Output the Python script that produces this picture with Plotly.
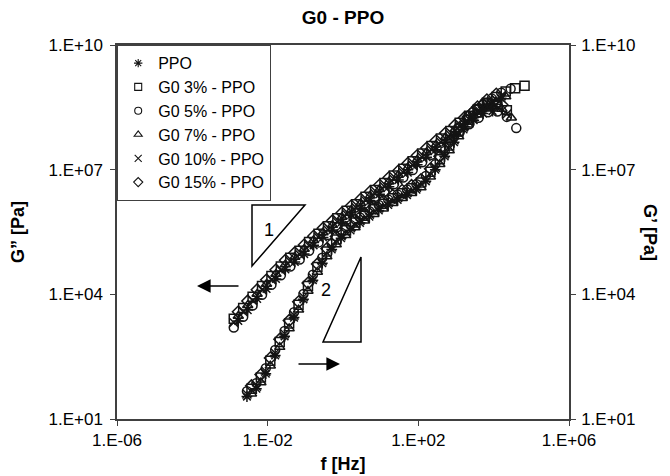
import plotly.graph_objects as go

# ---------------- data (log10 values) ----------------
# frequency grids, log10(f / Hz)
loss_log_f_a = [-2.90, -2.65, -2.40, -2.15, -1.90, -1.65, -1.40, -1.15, -0.90, -0.65, -0.40, -0.15, 0.10, 0.35, 0.60, 0.85,
                1.10, 1.35, 1.60, 1.85, 2.10, 2.35, 2.60, 2.85, 3.10, 3.35, 3.60, 3.85, 4.10, 4.35, 4.60]
loss_log_f_b = [-2.78, -2.53, -2.28, -2.03, -1.78, -1.53, -1.28, -1.03, -0.78, -0.53, -0.28, -0.03, 0.22, 0.47, 0.72, 0.97,
                1.22, 1.47, 1.72, 1.97, 2.22, 2.47, 2.72, 2.97, 3.22, 3.47, 3.72, 3.97, 4.22, 4.47]
stor_log_f_a = [-2.55, -2.30, -2.05, -1.80, -1.55, -1.30, -1.05, -0.80, -0.55, -0.30, -0.05, 0.20, 0.45, 0.70, 0.95, 1.20,
                1.45, 1.70, 1.95, 2.20, 2.45, 2.70, 2.95, 3.20, 3.45, 3.70, 3.95, 4.20, 4.45, 4.70]
stor_log_f_b = [-2.43, -2.18, -1.93, -1.68, -1.43, -1.18, -0.93, -0.68, -0.43, -0.18, 0.07, 0.32, 0.57, 0.82, 1.07, 1.32,
                1.57, 1.82, 2.07, 2.32, 2.57, 2.82, 3.07, 3.32, 3.57, 3.82, 4.07, 4.32, 4.57, 4.82]

# G'' (loss modulus), log10(Pa)
ppo_loss = [3.36, 3.62, 3.89, 4.13, 4.37, 4.60, 4.78, 4.97, 5.18, 5.37, 5.55, 5.74, 5.91, 6.07, 6.25, 6.41, 6.59, 6.75,
            6.93, 7.12, 7.30, 7.48, 7.66, 7.85, 8.03, 8.19, 8.35, 8.41]
g3_loss = [3.41, 3.67, 3.94, 4.20, 4.44, 4.67, 4.88, 5.05, 5.26, 5.46, 5.64, 5.83, 6.01, 6.17, 6.35, 6.51, 6.68, 6.86,
           7.02, 7.20, 7.39, 7.57, 7.75, 7.93, 8.13, 8.30, 8.46, 8.57, 8.57, 8.43]
g5_loss = [3.20, 3.46, 3.73, 3.99, 4.23, 4.46, 4.67, 4.84, 5.05, 5.25, 5.43, 5.62, 5.80, 5.96, 6.14, 6.30, 6.47, 6.65,
           6.81, 6.99, 7.18, 7.36, 7.54, 7.72, 7.92, 8.09, 8.25, 8.38, 8.40, 8.27, 8.00]
g7_loss = [3.48, 3.74, 4.01, 4.25, 4.49, 4.72, 4.90, 5.09, 5.30, 5.49, 5.67, 5.86, 6.03, 6.19, 6.37, 6.53, 6.71, 6.87,
           7.05, 7.24, 7.42, 7.60, 7.78, 7.97, 8.15, 8.31, 8.47, 8.53, 8.46, 8.25]
g10_loss = [3.32, 3.58, 3.85, 4.11, 4.35, 4.58, 4.79, 4.96, 5.17, 5.37, 5.55, 5.74, 5.92, 6.08, 6.26, 6.42, 6.59, 6.77,
            6.93, 7.11, 7.30, 7.48, 7.66, 7.84, 8.04, 8.21, 8.37, 8.48, 8.48, 8.34]
g15_loss = [3.58, 3.84, 4.11, 4.35, 4.59, 4.82, 5.00, 5.19, 5.40, 5.59, 5.77, 5.96, 6.13, 6.29, 6.47, 6.63, 6.81, 6.97,
            7.15, 7.34, 7.52, 7.70, 7.88, 8.07, 8.25, 8.41, 8.57, 8.63, 8.56]

# G' (storage modulus), log10(Pa)
ppo_stor = [1.54, 1.73, 2.09, 2.53, 2.99, 3.44, 3.88, 4.34, 4.75, 5.08, 5.35, 5.54, 5.72, 5.87, 6.02, 6.15, 6.27, 6.39,
            6.52, 6.72, 7.00, 7.32, 7.66, 7.97, 8.25, 8.43, 8.58, 8.72]
g3_stor = [1.73, 2.00, 2.40, 2.85, 3.30, 3.75, 4.20, 4.66, 5.03, 5.32, 5.54, 5.73, 5.89, 6.05, 6.18, 6.31, 6.43, 6.55,
           6.69, 6.95, 7.25, 7.58, 7.92, 8.20, 8.44, 8.61, 8.75, 8.88, 8.96, 9.02]
g5_stor = [1.67, 1.86, 2.22, 2.66, 3.12, 3.57, 4.01, 4.47, 4.88, 5.21, 5.48, 5.67, 5.85, 6.00, 6.15, 6.28, 6.40, 6.52,
           6.65, 6.85, 7.13, 7.45, 7.79, 8.10, 8.38, 8.56, 8.71, 8.85, 8.95]
g7_stor = [1.61, 1.88, 2.28, 2.73, 3.18, 3.63, 4.08, 4.54, 4.91, 5.20, 5.42, 5.61, 5.77, 5.93, 6.06, 6.19, 6.31, 6.43,
           6.57, 6.83, 7.13, 7.46, 7.80, 8.08, 8.32, 8.49, 8.63, 8.76]
g10_stor = [1.60, 1.79, 2.15, 2.59, 3.05, 3.50, 3.94, 4.40, 4.81, 5.14, 5.41, 5.60, 5.78, 5.93, 6.08, 6.21, 6.33, 6.45,
            6.58, 6.78, 7.06, 7.38, 7.72, 8.03, 8.31, 8.49, 8.64, 8.78]
g15_stor = [1.80, 2.07, 2.47, 2.92, 3.37, 3.82, 4.27, 4.73, 5.10, 5.39, 5.61, 5.80, 5.96, 6.12, 6.25, 6.38, 6.50, 6.62,
            6.76, 7.02, 7.32, 7.65, 7.99, 8.27, 8.51, 8.68, 8.82]

series_names = ["PPO", "G0 3% - PPO", "G0 5% - PPO", "G0 7% - PPO", "G0 10% - PPO", "G0 15% - PPO"]
series_symbols = ["asterisk-open", "square-open", "circle-open", "triangle-up-open", "x-thin-open", "diamond-open"]
loss_series = [(loss_log_f_b, ppo_loss), (loss_log_f_a, g3_loss), (loss_log_f_a, g5_loss),
               (loss_log_f_b, g7_loss), (loss_log_f_a, g10_loss), (loss_log_f_b, g15_loss)]
stor_series = [(stor_log_f_a, ppo_stor), (stor_log_f_b, g3_stor), (stor_log_f_a, g5_stor),
               (stor_log_f_b, g7_stor), (stor_log_f_a, g10_stor), (stor_log_f_b, g15_stor)]

x_tick_vals = [1e-6, 1e-2, 1e2, 1e6]
x_tick_text = ["1.E-06", "1.E-02", "1.E+02", "1.E+06"]
y_tick_vals = [1e1, 1e4, 1e7, 1e10]
y_tick_text = ["1.E+01", "1.E+04", "1.E+07", "1.E+10"]

# ---------------- figure ----------------
# The page body has an 8 px margin, so the figure is drawn 8 px smaller and
# its margins are reduced by 8 px on the left/top.
FONT = "Liberation Sans, Arial, sans-serif"
INK = "#141414"
AXIS = "#404040"
W, H = 662, 468
ML, MT, PW, PH = 109, 37, 452, 374

fig = go.Figure()

# legend entries (small symbols, as in the original legend)
for name, sym in zip(series_names, series_symbols):
    fig.add_trace(go.Scatter(
        x=[None], y=[None], mode="markers", name=name, legendgroup=name, showlegend=True,
        marker=dict(symbol=sym, size=7, color=INK, line=dict(color=INK, width=1.1))))

for name, sym, (fl, yl) in zip(series_names, series_symbols, loss_series):
    fig.add_trace(go.Scatter(
        x=[10 ** v for v in fl[:len(yl)]], y=[10 ** v for v in yl],
        mode="markers", name=name + " (G”)", legendgroup=name, showlegend=False,
        marker=dict(symbol=sym, size=9, color=INK, line=dict(color=INK, width=1.5)),
        yaxis="y"))

for name, sym, (fs, ys) in zip(series_names, series_symbols, stor_series):
    fig.add_trace(go.Scatter(
        x=[10 ** v for v in fs[:len(ys)]], y=[10 ** v for v in ys],
        mode="markers", name=name + " (G’)", legendgroup=name, showlegend=False,
        marker=dict(symbol=sym, size=9, color=INK, line=dict(color=INK, width=1.5)),
        yaxis="y2"))

axis_common = dict(showgrid=False, zeroline=False, showline=True, linecolor=AXIS, linewidth=1.5,
                   ticks="outside", ticklen=5, tickwidth=1.2, tickcolor=AXIS,
                   tickfont=dict(family=FONT, size=17, color="black"))

fig.update_layout(
    width=W, height=H,
    margin=dict(l=ML, r=W - ML - PW, t=MT, b=H - MT - PH, autoexpand=False),
    paper_bgcolor="white", plot_bgcolor="white",
    font=dict(family=FONT, color="black"),
    title=dict(text="<b>G0 - PPO</b>", x=(ML + PW / 2) / W, xanchor="center",
               y=1 - 9 / H, yanchor="middle", font=dict(family=FONT, size=19, color="black")),
    xaxis=dict(type="log", range=[-6, 6], tickvals=x_tick_vals, ticktext=x_tick_text, mirror=True,
               title=dict(text="<b>f [Hz]</b>", font=dict(family=FONT, size=18), standoff=8),
               automargin=False, **axis_common),
    yaxis=dict(type="log", range=[1, 10], tickvals=y_tick_vals, ticktext=y_tick_text, ticklabelstandoff=4,
               title=dict(text="<b>G” [Pa]</b>", font=dict(family=FONT, size=18), standoff=20),
               automargin=False, **axis_common),
    yaxis2=dict(type="log", range=[1, 10], tickvals=y_tick_vals, ticktext=y_tick_text, ticklabelstandoff=2,
                overlaying="y", side="right", anchor="x", automargin=False, **axis_common),
    legend=dict(x=0, y=1, xanchor="left", yanchor="top", bgcolor="white",
                bordercolor=AXIS, borderwidth=1.2, tracegroupgap=0,
                font=dict(family=FONT, size=16, color="black")),
    showlegend=True,
)


def P(px, py):
    """reference-picture pixel -> paper coordinates of the plot area"""
    return (px - 117) / PW, (419 - py) / PH


# right-axis title (reads top to bottom)
tx, ty = P(650, 232)
fig.add_annotation(text="<b>G’ [Pa]</b>", xref="paper", yref="paper", x=tx, y=ty,
                   xanchor="center", yanchor="middle",
                   showarrow=False, textangle=90, font=dict(family=FONT, size=18, color="black"))

# slope triangles
tri1 = [P(252, 205), P(305, 205), P(252, 266)]
tri2 = [P(361, 257), P(361, 342), P(323, 342)]
for tri in (tri1, tri2):
    path = "M {} {} L {} {} L {} {} Z".format(tri[0][0], tri[0][1], tri[1][0], tri[1][1], tri[2][0], tri[2][1])
    fig.add_shape(type="path", path=path, xref="paper", yref="paper",
                  line=dict(color="black", width=1.5), fillcolor="rgba(0,0,0,0)")

lx, ly = P(269, 230)
fig.add_annotation(text="1", xref="paper", yref="paper", x=lx, y=ly, showarrow=False,
                   font=dict(family=FONT, size=18, color="black"))
lx, ly = P(326, 302)
fig.add_annotation(text="2", xref="paper", yref="paper", x=lx, y=ly, showarrow=False,
                   font=dict(family=FONT, size=18, color="black"))

# arrows pointing to the relevant axis
hx, hy = P(197, 286)
fig.add_annotation(x=hx, y=hy, xref="paper", yref="paper", text="", showarrow=True,
                   ax=43, ay=0, arrowhead=2, arrowsize=1.7, arrowwidth=1.6, arrowcolor="black")
hx, hy = P(340, 364)
fig.add_annotation(x=hx, y=hy, xref="paper", yref="paper", text="", showarrow=True,
                   ax=-43, ay=0, arrowhead=2, arrowsize=1.7, arrowwidth=1.6, arrowcolor="black")

fig.write_html("out.html")
